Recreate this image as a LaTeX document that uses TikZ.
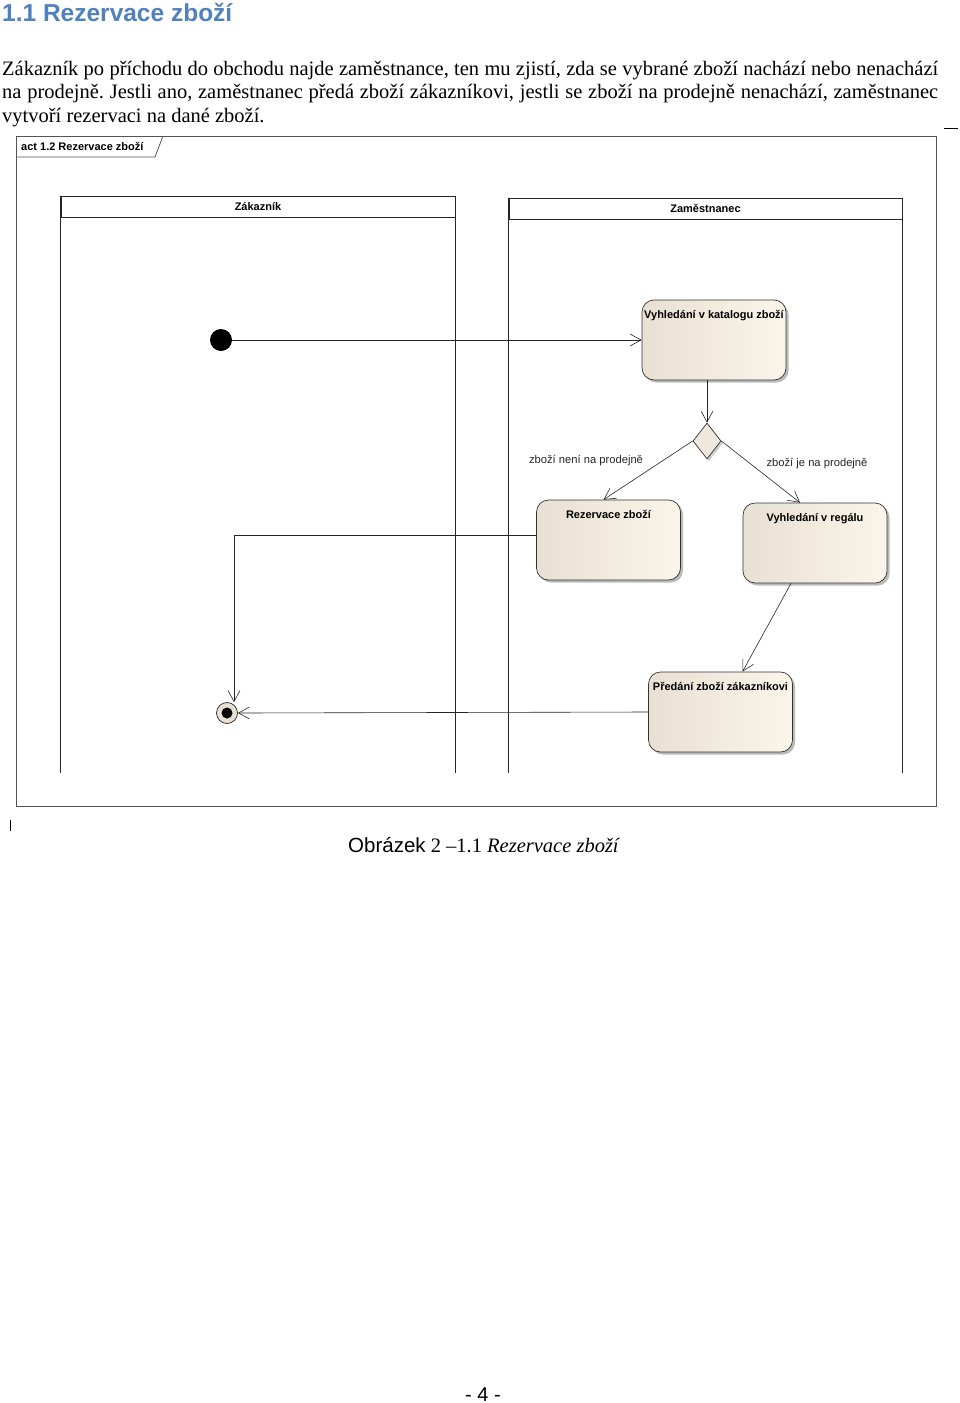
\documentclass[tikz,border=0pt]{standalone}
\usepackage{fontspec}
\setmainfont{Liberation Serif}
\newfontfamily\arialfont{Liberation Sans}
\usetikzlibrary{shapes.geometric, arrows.meta, shadows}
\definecolor{headblue}{RGB}{79,129,189}
\definecolor{actleft}{RGB}{232,224,210}
\definecolor{actright}{RGB}{251,245,234}
\definecolor{framegray}{RGB}{85,85,85}
\tikzstyle{activity} = [rounded corners=12pt,draw=black!80,line width=0.7pt,left color=actleft,right color=actright,minimum width=144pt,text height=14pt,text depth=58pt,inner xsep=1.5pt,inner ysep=4pt,font=\arialfont\bfseries\fontsize{11}{13}\selectfont,drop shadow={shadow xshift=2.5pt,shadow yshift=-2.5pt,fill=black!45,opacity=.6}]
\tikzstyle{decision} = [diamond,draw=black!80,line width=0.7pt,fill=actleft!60!actright,minimum width=28pt,minimum height=36pt,inner sep=0pt,drop shadow={shadow xshift=2pt,shadow yshift=-2pt,fill=black!40,opacity=.5}]
\tikzstyle{flow} = [-{Straight Barb[length=11pt,width=12pt]},draw=black!85,line width=0.6pt]
\tikzstyle{guard} = [font=\arialfont\fontsize{11.2}{13}\selectfont,text=black!85]
\tikzstyle{lanehead} = [draw=black!85,line width=0.8pt,minimum width=394pt,minimum height=21pt,inner sep=0pt,font=\arialfont\bfseries\fontsize{11}{13}\selectfont]
\tikzstyle{laneline} = [draw=black!85,line width=0.8pt]

\begin{document}
\frenchspacing
\begin{tikzpicture}[x=1pt,y=-1pt]
\useasboundingbox (0,0) rectangle (960,1403);

\node[anchor=base west,inner sep=0pt,text=headblue,font=\arialfont\bfseries\fontsize{24.5}{28}\selectfont](title) at (2,21){1.1 Rezervace zboží};
\node[anchor=base west,inner sep=0pt,text width=936pt,align=justify,font=\fontsize{20.5}{23.5}\selectfont](para) at (2,75){Zákazník po příchodu do obchodu najde zaměstnance, ten mu zjistí, zda se vybrané zboží nachází nebo nenachází\linebreak na prodejně. Jestli ano, zaměstnanec předá zboží zákazníkovi, jestli se zboží na prodejně nenachází, zaměstnanec\linebreak vytvoří rezervaci na dané zboží.};
\draw (944,128) -- (958,128);

% frame
\draw[framegray,line width=0.8pt] (16,136) rectangle (936,806);
\draw[framegray,line width=0.8pt] (16,157) -- (155,157) -- (163,136);
\node[anchor=west,inner sep=0pt,font=\arialfont\bfseries\fontsize{11}{13}\selectfont](frametab) at (21,146.5){act 1.2 Rezervace zboží};

% lanes
\node[lanehead](zak) at (258,206.5){Zákazník};
\node[lanehead,minimum width=393pt](zam) at (705.5,208.5){Zaměstnanec};
\draw[laneline] (zak.north west) -- (zak.north west |- 0,773);
\draw[laneline] (zak.north east) -- (zak.north east |- 0,773);
\draw[laneline] (zam.north west) -- (zam.north west |- 0,773);
\draw[laneline] (zam.north east) -- (zam.north east |- 0,773);

\node[circle,fill=black,minimum size=22pt,inner sep=0pt](start) at (221,340){};
\node[activity](katalog) at (714,340){Vyhledání v katalogu zboží};
\node[decision](dec) at (707,441){};
\node[activity](rez) at (608.5,540){Rezervace zboží};
\node[activity](regal) at (815,543){Vyhledání v regálu};
\node[activity](predani) at (720.5,712){Předání zboží zákazníkovi};
\node[circle,draw=black!85,line width=0.7pt,fill=actleft,minimum size=21pt,inner sep=0pt](fin) at (227,713){};
\node[circle,fill=black,minimum size=11pt,inner sep=0pt](findot) at (fin){};

\node[guard](nenilbl) at (586,461){zboží není na prodejně};
\node[guard](jelbl) at (817,463.5){zboží je na prodejně};

\draw[flow](start)--(katalog.west);
\draw[flow](katalog.south -| dec.north)--(dec.north);
\draw[flow](dec.west)--([xshift=-5pt]rez.north);
\draw[flow](dec.east)--([xshift=-15pt]regal.north);
\draw[flow]([xshift=-24pt]regal.south)--([xshift=22pt]predani.north);
\draw[flow]([yshift=5pt]rez.west)-|([xshift=7pt]fin.north);
\draw[flow](predani.west)--(fin.east);

\draw (10,820) -- (10,831);
\node[anchor=base west,inner sep=0pt,font=\fontsize{20.5}{24}\selectfont](caption) at (348,852){{\arialfont Obrázek} 2 –1.1 \textit{Rezervace zboží}};
\node[anchor=base,inner sep=0pt,font=\arialfont\fontsize{20}{24}\selectfont](pagenum) at (483,1401){- 4 -};
\end{tikzpicture}
\end{document}
